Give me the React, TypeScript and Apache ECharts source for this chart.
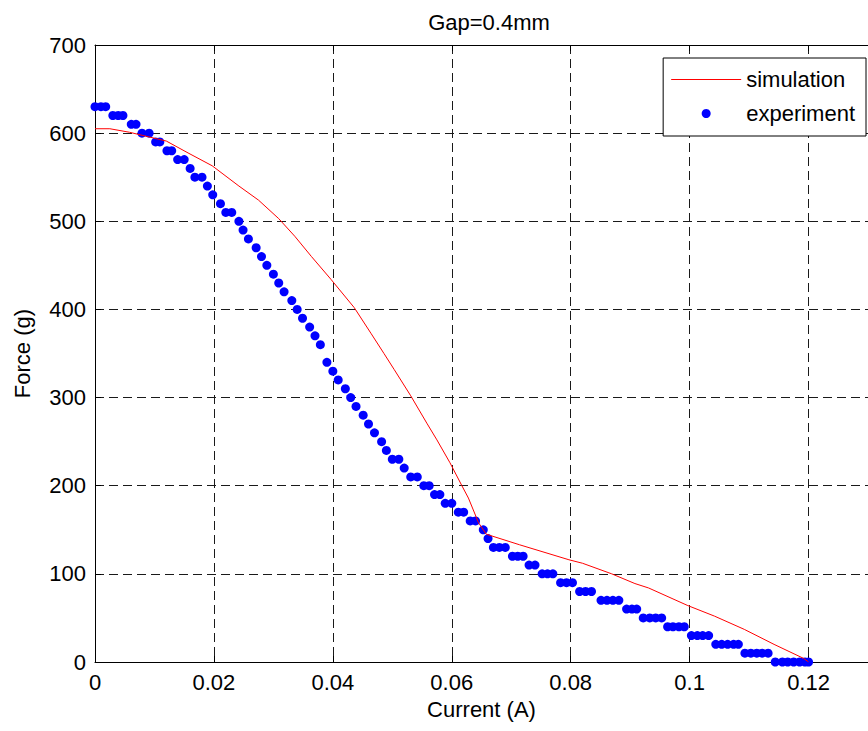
import React, { useEffect, useRef } from "react";
import * as echarts from "echarts";

const titleText = "Gap=0.4mm";
const xAxisName = "Current (A)";
const yAxisName = "Force (g)";
const seriesNames = ["simulation", "experiment"];

// simulation curve (current A, force g)
const simX = [0, 0.0025, 0.0058, 0.012, 0.0158, 0.0197, 0.0242, 0.0275, 0.0309, 0.0336, 0.0364, 0.0397, 0.0436, 0.0464, 0.0486, 0.0503, 0.0531, 0.0558, 0.0575, 0.0597, 0.0617, 0.0628, 0.0645, 0.0658, 0.0714, 0.0797, 0.082, 0.0869, 0.0908, 0.0931, 0.0997, 0.1042, 0.1092, 0.1142, 0.1192, 0.12];
const simY = [605, 605, 601, 591, 577, 563, 540, 524, 503, 483, 460, 434, 402, 373, 350, 332, 302, 271, 252, 226, 200, 186, 158, 145, 133, 116, 112, 100, 89, 84, 64, 52, 37, 20, 4, 0];

// experiment points
const expX = [
  0.0, 0.001, 0.0018,
  0.003, 0.0039, 0.0047,
  0.0061, 0.0069,
  0.0079, 0.0091,
  0.0102, 0.0109,
  0.0121, 0.0129,
  0.0139, 0.015,
  0.016,
  0.0168, 0.018,
  0.0189, 0.0198, 0.0211,
  0.022, 0.023,
  0.0242, 0.0249, 0.0258, 0.0271, 0.028, 0.0289, 0.03, 0.0309, 0.0318, 0.0331, 0.034, 0.0349, 0.0361, 0.037, 0.0379,
  0.039, 0.04, 0.0409, 0.0421, 0.043, 0.0439, 0.0451, 0.046, 0.047, 0.0482, 0.049,
  0.05, 0.0511, 0.052, 0.0531, 0.0542, 0.0553, 0.0562, 0.0571, 0.058,
  0.0589, 0.06, 0.0611, 0.062, 0.0631, 0.064, 0.0653, 0.0661,
  0.067, 0.068, 0.069, 0.0702, 0.0711, 0.072, 0.073, 0.074,
  0.0752, 0.0761, 0.077, 0.0783, 0.0793, 0.0803, 0.0815, 0.0825, 0.0835,
  0.0851, 0.0861, 0.0871, 0.0881, 0.0894, 0.0903, 0.0911,
  0.0922, 0.0933, 0.0943, 0.0953, 0.0963, 0.0972, 0.0982, 0.0991,
  0.1003, 0.1013, 0.1022, 0.1032, 0.1044, 0.1054, 0.1064, 0.1074, 0.1082,
  0.1093, 0.1103, 0.1113, 0.1122, 0.1132,
  0.1144, 0.1156, 0.1165, 0.1175, 0.1185, 0.1194, 0.12,
];
const expY = [
  630, 630, 630,
  620, 620, 620,
  610, 610,
  600, 600,
  590, 590,
  580, 580,
  570, 570,
  560,
  550, 550,
  540, 530, 520,
  510, 510,
  500, 490, 480, 470, 460, 450, 440, 430, 420, 410, 400, 390, 380, 370, 360,
  340, 330, 320, 310, 300, 290, 280, 270, 260, 250, 240,
  230, 230, 220, 210, 210, 200, 200, 190, 190,
  180, 180, 170, 170, 160, 160, 150, 140,
  130, 130, 130, 120, 120, 120, 110, 110,
  100, 100, 100, 90, 90, 90, 80, 80, 80,
  70, 70, 70, 70, 60, 60, 60,
  50, 50, 50, 50, 40, 40, 40, 40,
  30, 30, 30, 30, 20, 20, 20, 20, 20,
  10, 10, 10, 10, 10,
  0, 0, 0, 0, 0, 0, 0,
];

const FONT = "Liberation Sans, Arial, sans-serif";
const FS = 22;

export default function App() {
  const ref = useRef<HTMLDivElement>(null);
  useEffect(() => {
    if (!ref.current) return;
    const chart = echarts.init(ref.current, null, { renderer: "svg" });
    const simData = simX.map((x, i) => [x, simY[i]]);
    const expData = expX.map((x, i) => [x, expY[i]]);
    const gridLine = { show: true, lineStyle: { color: "#1a1a1a", width: 1, type: [9, 5] as any } };
    chart.setOption({
      animation: false,
      backgroundColor: "#ffffff",
      textStyle: { fontFamily: FONT },
      title: {
        text: titleText,
        left: 484,
        textAlign: "center",
        top: 6,
        textStyle: { fontFamily: FONT, fontSize: FS, fontWeight: "normal", color: "#000" },
      },
      grid: { left: 95, top: 45, width: 780, height: 617, containLabel: false },
      legend: {
        orient: "vertical",
        right: 2,
        top: 58,
        padding: [9, 11, 10, 8],
        itemGap: 9,
        itemWidth: 70,
        itemHeight: 9,
        backgroundColor: "#ffffff",
        borderColor: "#000",
        borderWidth: 1,
        borderRadius: 0,
        textStyle: { fontFamily: FONT, fontSize: FS, color: "#000", lineHeight: 25 },
        data: [
          { name: seriesNames[0], icon: "path://M0,0 L70,0 L70,1 L0,1 Z", itemStyle: { color: "#ff0000" } },
          { name: seriesNames[1], icon: "circle", itemStyle: { color: "#0000ff", opacity: 1 } },
        ],
      },
      xAxis: [
        {
          type: "value",
          min: 0,
          max: 0.13,
          interval: 0.02,
          name: xAxisName,
          nameLocation: "middle",
          nameGap: 36,
          nameTextStyle: { fontFamily: FONT, fontSize: FS, color: "#000" },
          axisLine: { show: true, lineStyle: { color: "#000", width: 1 } },
          axisTick: { show: true, inside: true, length: 6, lineStyle: { color: "#000" } },
          axisLabel: { show: true, margin: 9, fontFamily: FONT, fontSize: FS, color: "#000", showMaxLabel: false,
            formatter: (v: number) => (v > 0.125 ? "" : String(Math.round(v * 100) / 100)) },
          splitLine: gridLine,
        },
        {
          type: "value",
          position: "top",
          min: 0,
          max: 0.13,
          interval: 0.02,
          axisLine: { show: true, lineStyle: { color: "#000", width: 1 } },
          axisTick: { show: true, inside: true, length: 6, lineStyle: { color: "#000" } },
          axisLabel: { show: false },
          splitLine: { show: false },
        },
      ],
      yAxis: {
        type: "value",
        min: 0,
        max: 700,
        interval: 100,
        name: yAxisName,
        nameLocation: "middle",
        nameGap: 62,
        nameTextStyle: { fontFamily: FONT, fontSize: FS, color: "#000" },
        axisLine: { show: true, lineStyle: { color: "#000", width: 1 } },
        axisTick: { show: true, inside: true, length: 6, lineStyle: { color: "#000" } },
        axisLabel: { show: true, margin: 9, fontFamily: FONT, fontSize: FS, color: "#000" },
        splitLine: gridLine,
      },
      series: [
        {
          name: seriesNames[0],
          type: "line",
          data: simData,
          showSymbol: false,
          symbol: "none",
          lineStyle: { color: "#ff0000", width: 1 },
          itemStyle: { color: "#ff0000" },
          z: 3,
        },
        {
          name: seriesNames[1],
          type: "scatter",
          data: expData,
          symbol: "circle",
          symbolSize: 9,
          itemStyle: { color: "#0000ff", opacity: 1 },
          z: 2,
        },
      ],
    });
    return () => chart.dispose();
  }, []);
  return (
    <div
      ref={ref}
      style={{ position: "fixed", left: 0, top: 0, width: 868, height: 731, background: "#fff" }}
    />
  );
}
